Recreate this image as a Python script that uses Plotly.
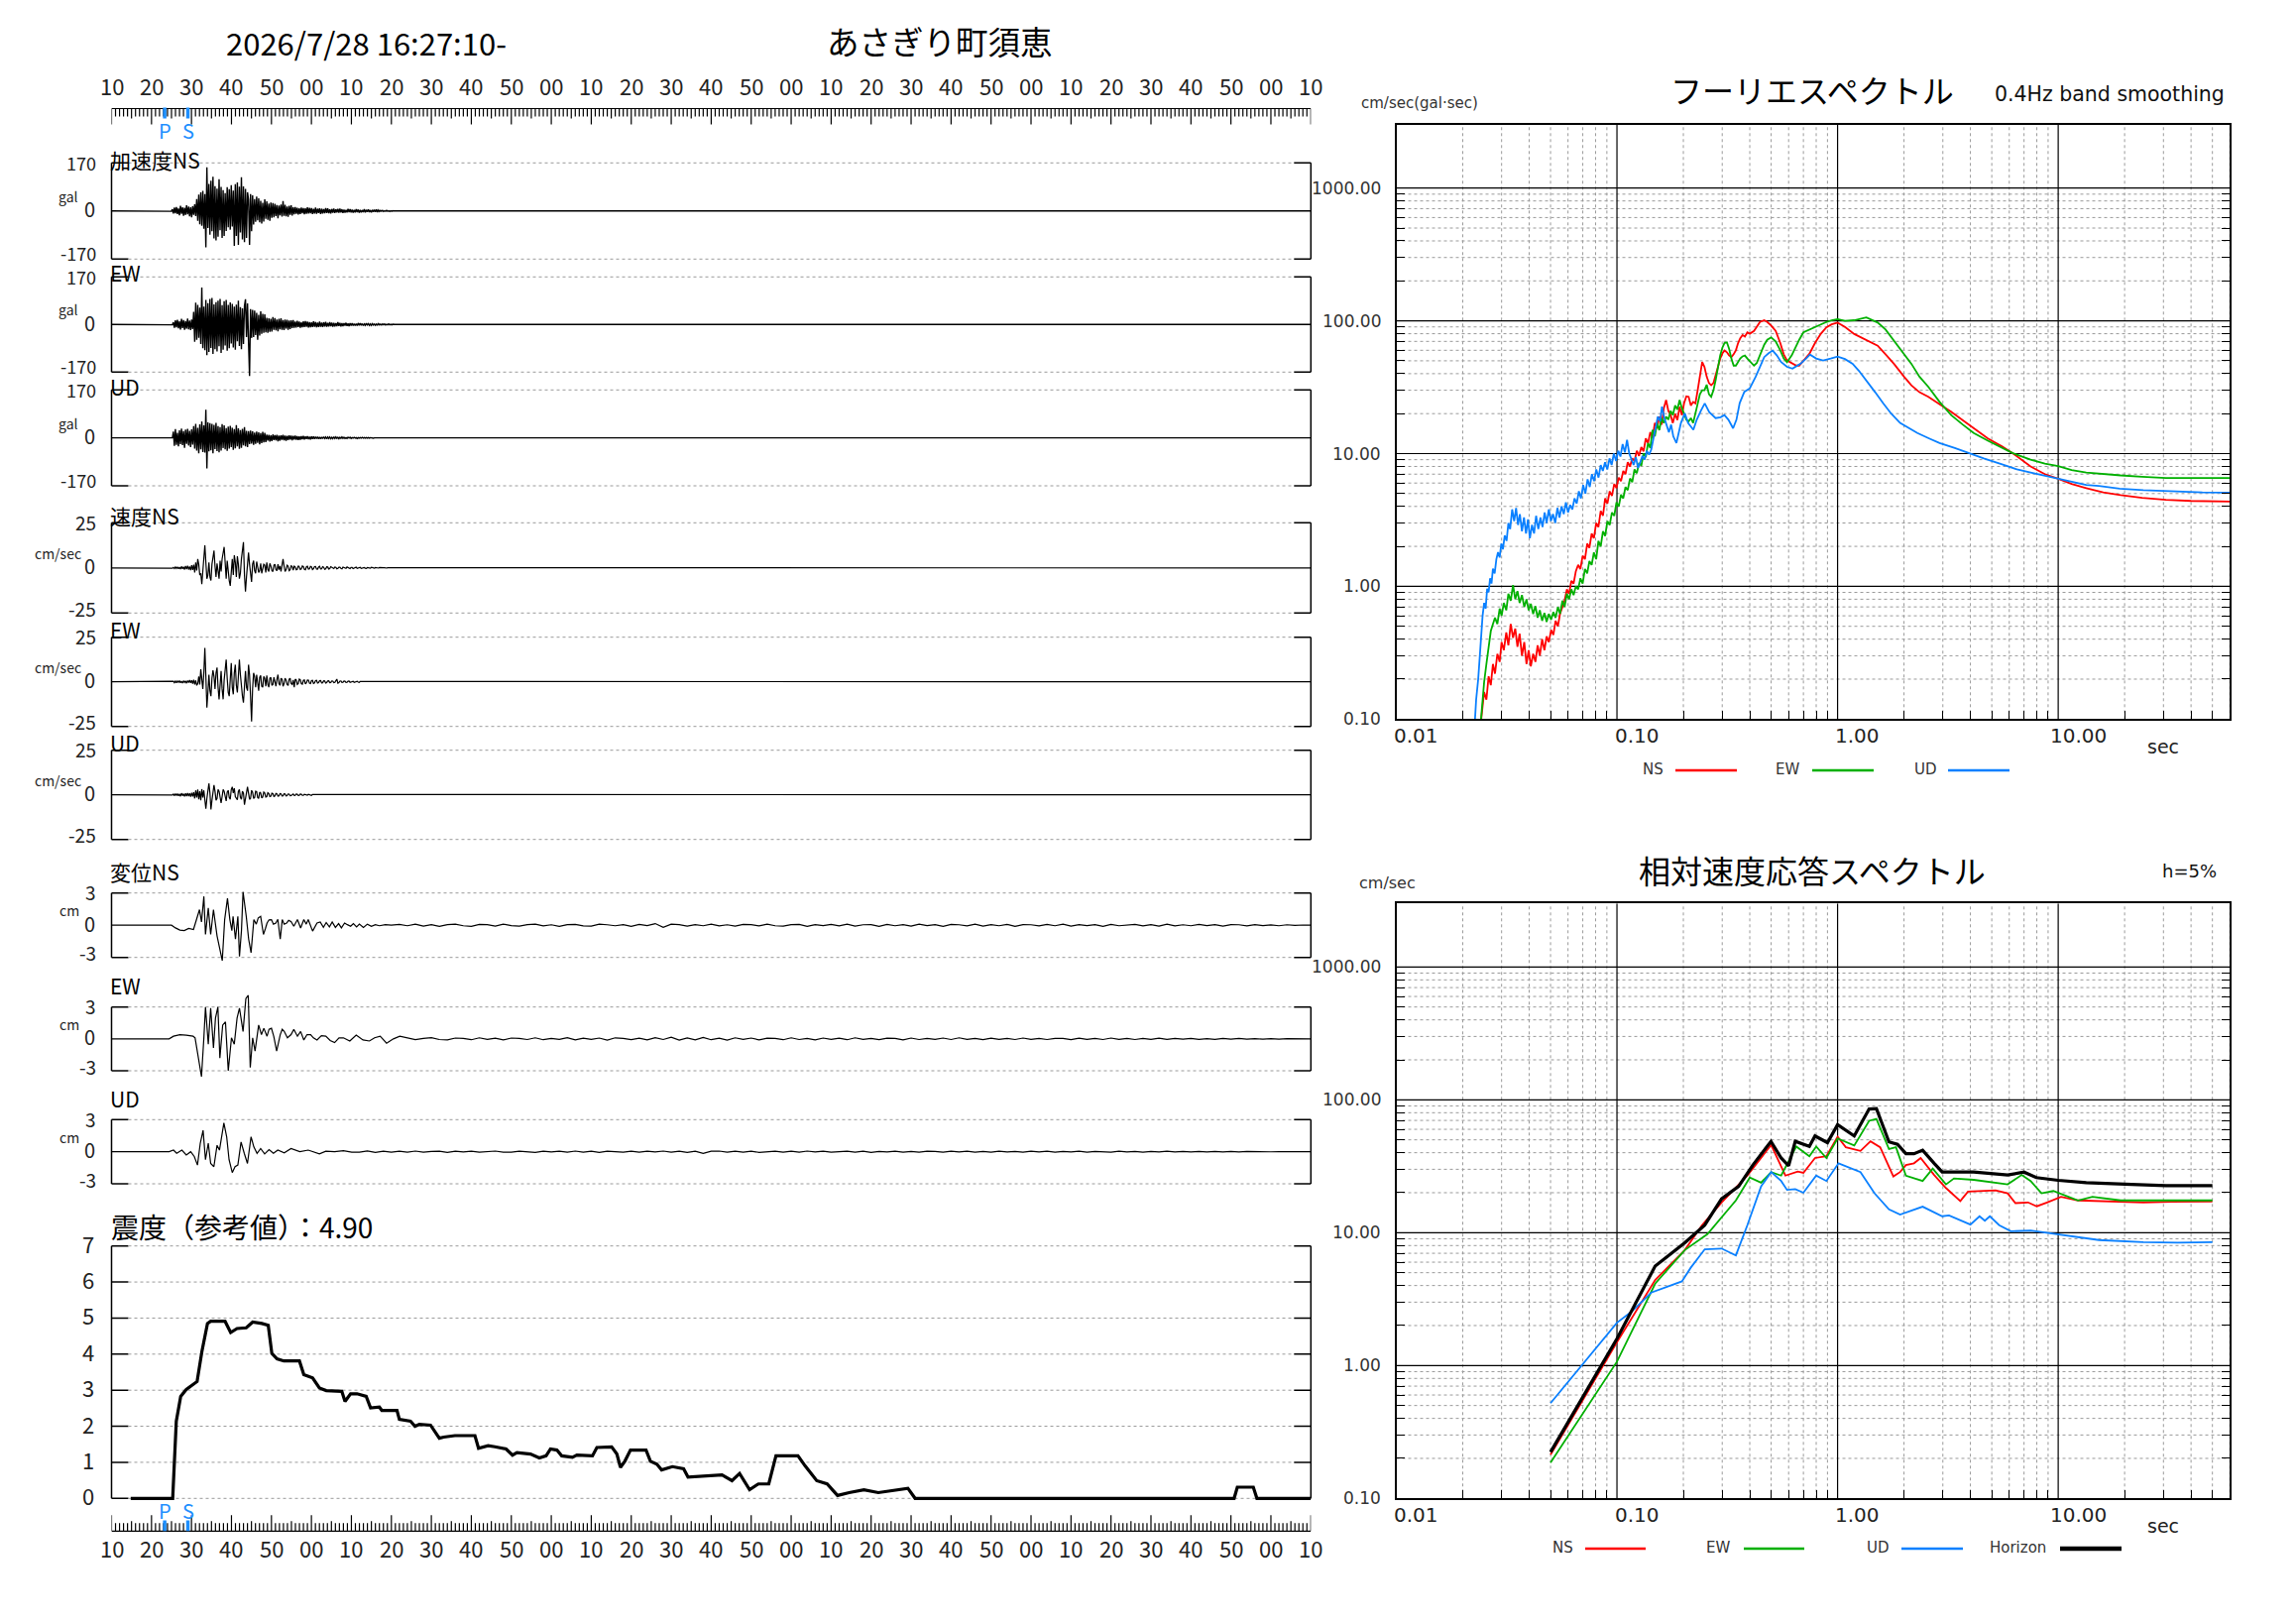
import numpy as np
import plotly.graph_objects as go

W, H = 2316, 1637
JP = "Noto Sans CJK JP"
LAT = "DejaVu Sans"
TXT = "#222222"
RED, GREEN, BLUE = "#ff0000", "#00b000", "#0a80ff"
PS_BLUE = "#1e8fff"


def PX(x):
    return x / W


def PY(y):
    return 1 - y / H


# ====================== DATA ======================
TITLE_DATE = "2026/7/28 16:27:10-"
STATION = "あさぎり町須恵"
START_SEC = 10          # record starts at 16:27:10
DURATION = 300          # seconds shown
P_TIME = 13.3           # seconds after start
S_TIME = 19.1
INTENSITY_TEXT = "4.90"

ACC_T0, ACC_DT = 14.2, 0.254
acc_ns = [0, 0, 1, -1,
          6, -9, 12, -8, 14, -11, 9, -15, 18, -10, 13, -17, 11, -14, 20, -12, 16, -19, 13, -22, 17, -14, 24, -18,
          42, -35, 58, -47, 66, -52, 71, -63,
          60, -129, 154, -60,
          96, -84, 107, -72, 121, -97, 88, -104, 79, -91, 112, -68, 85, -95, 74, -88,
          63, -71, 84, -58, 77, -66, 91, -55,
          72, -123, 95, -88, 101, -120, 86, -76, 119, -101, 87, -110,
          78, -95, 66, 40, -120, 60, -72, 55,
          -48, 42, -38, 51, -33, 45, -40, 36, -44, 29, -37, 41, -28, 34, -31, 26, -35, 30, -24, 28,
          -22, 25, -18, 21, -26, 19, -15, 23, -20, 35, -17, 22, -19, 16, -21, 18, -14, 20, -16, 13,
          -12, 14, -10, 11, -13, 9, -11, 12, -8, 10, -12, 9, -10, 13, -9, 11, -8, 10, -11, 8,
          -9, 12, -10, 8, -7, 9, -11, 8, -9, 7, -8, 10, -7, 9, -8, 6, -9, 7, -6, 8,
          -7, 6, -5, 7, -6, 8, -5, 6, -7, 5, -6, 4, -5, 7, -4, 6, -5, 5, -6, 4, -5, 6,
          -4, 5, -6, 4, -5, 3, -4, 6, -5, 4, -3, 5, -4, 3, -5, 4, -3, 4, -3, 5, -4, 3,
          -2, 2, -1, 2, -2, 1, -1, 2, -1, 1, -2, 1, -1, 1, 0, 0]
acc_ew = [0, 0, 0, 1, -1,
          8, -12, 15, -10, 17, -14, 11, -18, 20, -13, 16, -19, 12, -15, 21, -17, 14, -20, 18, -16,
          45, -62, 78, -55, 70,
          -48, 60, -70, 132, -85, 64,
          -92, 88, -110, 76, -98, 91, -84, 95, -105, 72, -88, 80, -96, 85, -78, 91, -102, 69, -90, 83,
          -75, 88, -94, 70, -85, 79, -68, 74,
          -82, 64, -90, 71, -60, 85, -77, 62, -88, 58, -70, 66,
          90, -45, 75, -60, -184, 55, -48, 52,
          -45, 50, -38, 42, -55, 35, -40, 47, -33, 38, -30, 36,
          -28, 24, -30, 22, -26, 20, -25, 27, -19, 23, -21, 18, -24, 20, -17, 22, -19, 16, -20, 18,
          -15, 17, -19, 14, -16, 15, -13, 16,
          -12, 10, -11, 13, -9, 10, -12, 8, -10, 11, -9, 12, -8, 10, -11, 9, -10, 8, -9, 11,
          -8, 9, -10, 7, -9, 10, -8, 7, -9, 8, -7, 9, -8, 6, -7, 8, -6, 7, -8, 6,
          -7, 5, -6, 8, -5, 6, -7, 5, -6, 5, -4, 6, -5, 4, -6, 5, -4, 5, -4, 3,
          -4, 3, -4, 5, -3, 4, -3, 3, -4, 2, -3, 4, -2, 3, -3, 2, -3, 3, -2, 2,
          -3, 2, -2, 3, -2, 1, -2, 2, -1, 2, -2, 1, -1, 2, -1, 1, -1, 1, 0, 0]
acc_ud = [0, 0, 0, 0, 0,
          22, -28, 31, -25, 18, -30, 27, -22, 33, -26, 24, -35, 29, -21, 32, -27, 25, -33, 30, -24,
          42, -38, 50, -45, 36, -55, 48, -41, 58, -50, 44, -52,
          100, -108,
          55, -48, 52, -44, 50, -55, 46, -40, 53, -47, 42, -51, 38, -45, 49, -36, 44, -41, 35, -46,
          40, -38, 43, -33, 36, -42, 31, -37, 45, -30, 34, -39, 28, -35, 32, -27, 38, -30, 25, -33,
          24, -22, 26, -20, 23, -25, 19, -21, 22, -18, 20, -23, 17, -19, 21, -16, 18, -15,
          12, -10, 11, -13, 9, -11, 12, -8, 10, -9, 11, -12, 8, -10, 9, -7, 11, -9, 8, -10,
          7, -8, 9, -6, 8, -9, 7, -6, 8, -7, 6, -8, 5, -7, 6, -5, 7, -6, 5, -4, 6, -5, 4, -6, 5, -4, 5, -4,
          4, -3, 4, -4, 3, -4, 3, -3, 4, -2, 3, -4, 3, -2, 3, -3, 2, -3, 4, -2,
          3, -2, 2, -3, 2, -2, 3, -2, 2, -2, 1, -2, 2, -1, 2, -2, 1, -1, 2, -1,
          1, -2, 1, -1, 1, -1, 2, -1, 1, -1, 1, -1, 1, -1, 1, 0, 1, -1, 0, 0]

VEL_T0, VEL_DT = 14.2, 0.254
vel_ns = [0, 0.1, -0.1, 0.2, -0.2,
          0.3, -0.4, 0.5, -0.3, 0.6, -0.5, 0.4, -0.7, 0.8, -0.5, 0.6, -0.9, 1.0, -0.7, 1.2, -0.9, 0.8, -1.3, 1.5, -1.1,
          1.8, -2.5, 3.0, -1.5, 4.9, 2.0, -4.0, -3.0, -9.0, -2.0, 6.0, 12.5, 3.0,
          -6.0, -4.0, 3.0, -5.0, -7.0, 2.0, 6.7, 9.6, 1.0, -5.0, 2.5, -3.0, -6.0,
          4.0, -2.0, 5.0, 8.0, 11.6, 3.0, -6.0, 4.0, -3.0, -7.0, -10.0,
          -2.0, 5.0, -4.0, 7.0, 3.0, -5.0, 6.5, 2.0, -6.0, -3.0,
          5.0, 9.0, 14.3, -4.0, -13.2, -5.0, 3.0, 8.5, 2.0, -4.0, -7.8,
          2.0, 4.0, -1.5, -3.0, 3.5, 1.0, -2.5, -1.5, 2.5,
          -3.0, -1.0, 2.0, 1.5, -2.5, 3.0, -1.0, -2.0, 2.5, 1.0, -1.5, -2.0,
          1.5, 2.0, -1.0, -1.5, 2.0, -1.0, 1.0, -2.0, 1.5, 4.9, 1.0, -2.0, -1.0, 1.5, 1.0, -1.5, -1.0, 1.2, 0.8, -1.2,
          1.0, 0.5, -1.0, -0.8, 1.2, 0.6, -0.9, -0.6, 1.0, 0.7, -0.8, -1.0, 0.6, 0.9, -0.7, -0.5, 0.8, 0.6, -0.9, -0.4,
          0.7, 0.8, -0.6, -0.7, 0.5, 0.9, -0.6, -0.5, 0.7, 0.4, -0.8, -0.5, 0.6, 0.5, -0.6, -0.4, 0.7, 0.3, -0.5, -0.4,
          0.5, 0.3, -0.5, -0.3, 0.4, 0.4, -0.3, -0.5, 0.4, 0.2, -0.4, -0.3, 0.5, 0.2, -0.3, -0.4, 0.3, 0.3, -0.4, -0.2,
          0.3, 0.4, -0.3, -0.2, 0.2, 0.3, -0.3, -0.2, 0.3, 0.2, -0.2, -0.3, 0.2, 0.2, -0.2, -0.2, 0.3, 0.1, -0.2, -0.2,
          0.2, 0.1, -0.2, -0.1, 0.2, 0.1, -0.1, -0.2, 0.1, 0.1, -0.1, -0.1, 0.1, 0.1, -0.1, 0, 0.1, 0, -0.1, 0]
vel_ew = [0, 0.1, -0.1, 0.1, -0.1,
          0.3, -0.5, 0.4, -0.6, 0.5, -0.3, 0.6, -0.5, 0.4, -0.7, 0.6, -0.4, 0.5, -0.8, 0.7, -0.5, 0.9, -0.6, 0.8, -1.0,
          1.2, -1.5, 0.8, -2.0, -1.0, 3.0, -1.5, 7.0, 2.0, -4.0, 5.0, 19.0, 3.0, -14.5, -6.0,
          4.0, -5.0, -8.0, 2.0, 6.5, 3.0, -4.0, 5.0, 8.0, -3.0, -9.8,
          -2.0, 6.0, -4.0, -9.8, 1.0, 7.0, 12.4, 2.0, -6.0, -8.0, 4.0, 10.5,
          -3.0, -7.0, 5.0, 9.6, -2.0, -6.0, 3.0, 12.4, 4.0,
          -5.0, -8.0, -11.7, 2.0, 6.0, -3.0, -5.0, 9.6, 4.0, -8.0, -22.2,
          -4.0, 5.0, 3.0, -3.0, 4.0, -2.0, -5.0, 2.5, 3.5,
          -2.5, -3.0, 3.0, 2.0, -2.5, 3.5, -1.5, -3.0, 2.0, 2.5, -2.0, -1.5,
          2.5, -1.0, -2.5, 1.5, 4.0, -1.0, -2.0, 2.0, 1.5, -2.5, -1.0, 2.0, 1.0, -1.5, -2.0, 1.5, 2.0, -1.0, -1.5, 1.0,
          -3.0, 1.5, 1.0, -1.5, -1.0, 1.5, 1.2, -1.0, -1.3, 0.8, 1.0, -1.2, -0.6, 1.0, 0.9, -0.8, -1.0, 0.7, 0.8, -0.9,
          -0.6, 0.7, 0.8, -0.7, -0.5, 0.6, 0.7, -0.6, -0.5, 0.6, 0.5, -0.7, -0.4, 0.5, 0.6, -0.5, -0.4, 0.5, 0.4, -0.5,
          -0.3, 0.6, 1.5, -0.8, -0.5, 0.4, 0.5, -0.4, -0.3, 0.4, 0.3, -0.4, -0.3, 0.3, 0.4, -0.3, -0.2, 0.3, 0.3, -0.3,
          -0.2, 0.2, 0.3, -0.2, -0.3, 0.2, 0.2, -0.2, -0.2, 0.2, 0.1, -0.2, -0.1, 0.2, 0.1, -0.1, -0.2, 0.1, 0.1, -0.1,
          -0.1, 0.1, 0.2, -0.1, -0.1, 0.1, 0.1, -0.1, -0.1, 0.1, 0.1, -0.1, 0, 0.1, 0, -0.1, 0, 0.1, 0, 0]
vel_ud = [0, 0.1, -0.2, 0.2, -0.1,
          0.4, -0.5, 0.6, -0.4, 0.7, -0.6, 0.5, -0.8, 0.9, -0.5, 0.6, -0.9, 0.8, -0.7, 1.0, -0.8, 0.9, -1.1, 1.2, -0.9,
          1.5, -2.0, 2.5, -1.5, 3.0, -2.5, 2.0, -3.0, 3.2, -1.5, 2.5, -3.5,
          -7.8, -2.0, 3.0, 6.5, 1.0, -8.2,
          -3.0, 2.5, 5.5, 2.0, -3.0, -2.0,
          3.0, 2.0, -2.5, -4.5, -1.0, 3.0, 2.0, -2.0, -3.5, 1.5,
          2.5, -1.5, -2.5, 3.0, 4.5, 1.0, 3.7, -1.0,
          -2.0, -2.7, 2.0, 3.0, -1.5, -2.5, 2.0, 1.0, -5.5,
          -2.0, 2.5, 4.5, 1.0, -2.5,
          -2.0, 2.5, 1.5, -2.0, -1.5, 2.0, 1.8, -1.5, -2.0, 1.5, 1.0, -1.8, -1.2, 1.5, 1.0, -1.2,
          -1.0, 1.2, 0.8, -1.0, -0.8, 0.9, 0.7, -0.9, -0.6, 0.8, 0.6, -0.7, -0.6, 0.7, 0.5, -0.6,
          -0.5, 0.6, 0.5, -0.6, -0.4, 0.5, 0.4, -0.5, -0.4, 0.4, 0.5, -0.4, -0.3, 0.4, 0.3, -0.4,
          -0.3, 0.4, 0.3, -0.3, -0.3, 0.3, 0.2, -0.3, -0.2, 0.3, 0.2, -0.2, -0.3, 0.2, 0.2, -0.2,
          0.2, -0.1, -0.2, 0.1, 0.2, -0.1, -0.1, 0.2, 0.1, -0.1, -0.2, 0.1, 0.1, -0.1, -0.1, 0.1, 0.1, -0.1, 0, 0.1,
          0, -0.1, 0, 0.1, 0, 0, -0.1, 0, 0.1, 0, 0, 0]

disp_ns_t = [15.0, 16.0, 17.1, 18.2, 19.3, 20.5, 21.5, 22.0, 22.5, 23.1, 23.5, 24.2, 24.8, 25.5, 26.4, 26.9, 27.7,
             28.3, 29.0, 29.6, 30.1, 30.4, 31.0, 31.6, 32.0, 32.5, 32.9, 33.7, 34.3, 34.9, 35.6, 36.2, 36.7, 37.3,
             37.6, 38.0, 38.5, 38.9, 39.4, 40.0, 40.5, 41.1, 41.6, 42.2, 42.7, 43.2, 43.8, 44.3, 44.9, 45.6, 46.5,
             47.3, 48.1, 48.7, 49.2, 50.3, 51.4, 52.2, 53.0, 53.7, 54.5, 55.2, 56.0, 56.8, 57.5, 58.3, 59.0, 59.8,
             60.5, 61.3, 62.0, 63.0, 64.0, 65.0, 66.0, 67.0, 68.5, 70.0]
disp_ns = [0, -0.25, -0.45, -0.5, -0.3, -0.4, 0.83, 1.45, 0.3, 2.68, -0.86, 1.6, -0.86, 1.45, -1.0, -1.94, -3.3,
           0.52, 2.5, 0.52, -0.5, 0.83, -1.3, 0.83, -2.9, -0.5, 3.1, 0.83, -1.3, -2.55, 0.52, 0.1, 0.68, 0.83,
           0.2, -0.86, -0.3, 0.2, 0.5, 0.52, 0.1, 0.2, 0.55, -1.3, 0.52, 0.1, 0.2, 0.45, 0.35, -0.1, 0.52,
           -0.25, 0.52, 0.1, 0.52, -0.55, 0.2, 0.3, -0.2, 0.25, -0.15, 0.3, -0.2, 0.15, -0.25, 0.2, 0.05, -0.1,
           0.15, -0.15, 0.1, -0.2, 0.1, -0.1, 0.05, -0.05, 0.05, 0]
disp_ns_tail = [0.08, -0.05, 0.1, -0.08, 0.05, -0.1, 0.06, 0.1, -0.05, -0.1, 0.08, 0.05, -0.08, 0.1, -0.04, -0.08,
                0.06, 0.1, -0.06, 0.04, -0.1, 0.05, 0.08, -0.06, -0.08, 0.1, 0.04, -0.05, 0.06, -0.1, 0.08, -0.04,
                0.15, -0.2, 0.1, 0.05, -0.08, 0.06, -0.05, 0.1, -0.06, 0.04, -0.08, 0.08, 0.05, -0.06, 0.1, -0.05,
                -0.08, 0.06, 0.08, -0.1, 0.05, -0.04, 0.08, -0.06, 0.1, -0.08, 0.04, 0.06, -0.1, 0.08, -0.05, 0.06,
                -0.08, 0.1, -0.04, 0.05, -0.1, 0.08, 0.04, -0.06, 0.1, -0.08, 0.05, -0.05, 0.08, -0.1, 0.06, 0.04,
                -0.06, 0.08, -0.05, 0.1, -0.08, 0.05, -0.04, 0.06, -0.1, 0.08, -0.05, 0.04, 0.08, -0.06, 0.05,
                -0.08, 0.1, -0.06, 0.04, -0.05, 0.08, -0.04, 0.06, -0.08, 0.05, 0.04, -0.06, 0.05, -0.04, 0.03,
                -0.05, 0.04, -0.02, 0.02, 0]
disp_ew_t = [14.4, 15.5, 17.1, 18.7, 20.4, 20.9, 21.5, 22.0, 22.5, 23.1, 23.5, 24.2, 24.8, 25.5, 26.0, 26.6, 27.1,
             27.8, 28.5, 29.2, 30.0, 30.7, 31.4, 32.0, 32.9, 33.6, 34.2, 34.7, 35.3, 35.9, 36.8, 37.5, 38.1, 38.9,
             39.4, 40.0, 40.6, 41.3, 42.2, 42.7, 43.2, 44.0, 44.9, 45.6, 46.5, 47.3, 48.1, 48.9, 49.8, 50.5, 51.4,
             52.5, 53.6, 54.7, 55.8, 56.9, 58.0, 59.6, 61.2, 62.9, 64.5, 65.8, 67.2, 68.8, 70.5, 72.1]
disp_ew = [0, 0.25, 0.4, 0.35, 0.25, 0.1, -1.3, -2.7, -3.55, 0.1, 3.0, -0.5, 2.9, -0.85, 1.95, 3.0, -1.8, 1.3,
           1.6, -3.0, 0.1, -0.5, 1.95, 2.9, 0.7, 3.8, 4.1, -2.7, 0.1, -1.15, 1.3, 0.4, 1.0, 0.25, 0.9, 1.0, 0.2,
           -1.15, 0.4, 0.9, 0.7, 0.1, 0.4, 0.9, 0.25, 0.7, -0.1, 0.4, 0.4, 0.1, -0.1, 0.3, 0.25, -0.15, -0.35,
           0.1, 0.1, -0.2, 0.35, -0.1, -0.2, 0.1, 0.25, -0.4, 0.0, 0.25]
disp_ew_tail = [0.1, -0.08, 0.05, 0.12, -0.06, -0.1, 0.08, 0.04, -0.08, 0.1, -0.05, 0.06, -0.1, 0.08, 0.05, -0.06,
                0.1, -0.08, 0.04, -0.05, 0.12, -0.1, 0.06, -0.04, 0.08, -0.12, 0.1, 0.05, -0.08, 0.06, -0.1, 0.12,
                -0.06, 0.15, -0.12, 0.08, -0.1, 0.14, -0.08, 0.06, -0.12, 0.1, -0.05, 0.08, -0.1, 0.06, 0.04, -0.08,
                0.1, -0.06, 0.05, -0.1, 0.08, -0.04, 0.06, -0.08, 0.1, -0.05, 0.04, -0.08, 0.06, 0.05, -0.1, 0.08,
                -0.06, 0.04, -0.05, 0.08, -0.06, 0.1, -0.04, 0.05, -0.08, 0.06, -0.05, 0.04, -0.06, 0.08, -0.04,
                0.05, -0.06, 0.04, 0.05, -0.08, 0.06, -0.04, 0.05, -0.06, 0.08, -0.05, 0.04, -0.06, 0.05, -0.04,
                0.06, -0.05, 0.04, -0.03, 0.05, -0.04, 0.03, -0.05, 0.04, -0.03, 0.04, -0.02, 0.03, -0.03, 0.02,
                -0.02, 0.02, -0.01, 0.01, 0]
disp_ud_t = [14.4, 15.5, 16.3, 17.6, 18.7, 19.8, 20.7, 21.5, 22.2, 22.9, 23.5, 24.2, 24.8, 25.6, 26.4, 27.0, 27.5,
             28.1, 28.8, 29.4, 30.2, 30.9, 31.6, 32.4, 33.2, 34.0, 34.9, 35.6, 36.4, 37.3, 38.3, 39.4, 40.5, 41.6,
             43.2, 44.9, 47.1, 49.2, 52.0, 53.6, 55.8, 58.0, 60.1, 62.0, 64.0, 66.0, 68.0, 70.0]
disp_ud = [0, 0.15, -0.15, 0.15, -0.3, 0.0, -0.45, -1.25, 0.8, 2.0, -0.75, 0.8, -1.1, -1.4, 0.6, 0.15, 1.4, 2.7,
           1.4, -0.75, -1.95, -1.4, -1.25, 0.9, -0.15, -1.1, 1.4, 0.45, -0.15, 0.3, -0.2, 0.2, -0.15, 0.15, -0.1,
           0.3, 0.0, 0.15, -0.2, 0.05, 0.0, 0.1, -0.05, -0.05, 0.08, -0.06, 0.05, -0.04]
disp_ud_tail = [0.05, -0.04, 0.06, -0.05, 0.03, 0.05, -0.06, 0.04, -0.03, 0.05, -0.05, 0.04, 0.06, -0.04, -0.05,
                0.05, 0.03, -0.06, 0.04, -0.03, 0.05, -0.04, 0.06, -0.05, 0.04, -0.06, 0.05, 0.03, -0.04, 0.05,
                -0.05, 0.04, -0.03, 0.06, -0.04, 0.05, -0.06, 0.04, -0.15, 0.05, 0.06, -0.05, 0.04, -0.04, 0.05,
                -0.06, 0.03, 0.05, -0.04, 0.04, -0.05, 0.06, -0.03, 0.04, -0.05, 0.03, 0.05, -0.04, 0.04, -0.06,
                0.03, -0.03, 0.05, -0.04, 0.03, -0.05, 0.04, 0.03, -0.04, 0.05, -0.03, 0.04, -0.05, 0.03, -0.04,
                0.05, -0.03, 0.03, -0.04, 0.04, -0.03, 0.05, -0.04, 0.03, -0.03, 0.04, -0.05, 0.03, 0.03, -0.04,
                0.04, -0.03, 0.03, -0.04, 0.03, -0.03, 0.04, -0.02, 0.03, -0.03, 0.02, -0.03, 0.03, -0.02, 0.02,
                -0.02, 0.02, -0.01, 0.01, -0.01, 0.01, 0, 0, 0, 0]
DISP_TAIL_START = {"ns": 72.0, "ew": 74.0, "ud": 72.0}

int_t = [4.8, 15.3, 16.2, 17.3, 18.7, 21.4, 22.6, 24.0, 24.8, 28.4, 29.8, 31.4, 33.7, 35.3, 37.6, 39.2, 40.1, 41.4,
         43.1, 47.0, 48.1, 50.3, 52.0, 53.7, 57.6, 58.4, 59.8, 61.4, 63.7, 64.8, 67.0, 67.6, 71.4, 72.0, 74.8, 75.9,
         77.0, 79.8, 82.0, 83.1, 85.9, 90.9, 91.8, 94.2, 95.9, 98.7, 100.3, 101.4, 104.8, 107.0, 108.7, 109.8,
         111.4, 112.6, 115.3, 116.4, 120.3, 121.4, 125.1, 126.4, 127.3, 128.4, 129.8, 133.7, 134.8, 136.4, 137.6,
         140.3, 143.1, 144.2, 152.7, 155.2, 157.1, 159.6, 161.8, 164.4, 166.2, 171.7, 173.5, 176.4, 179.0, 181.6,
         184.5, 188.2, 191.8, 196.3, 199.2, 201.0, 280.8, 281.6, 285.6, 286.5, 300.0]
int_v = [0, 0, 2.14, 2.83, 3.02, 3.24, 4.07, 4.85, 4.91, 4.91, 4.6, 4.71, 4.73, 4.89, 4.85, 4.8, 4.02, 3.87, 3.81,
         3.81, 3.43, 3.34, 3.06, 2.99, 2.97, 2.69, 2.9, 2.9, 2.83, 2.51, 2.53, 2.44, 2.44, 2.19, 2.14, 2.0, 2.05,
         2.03, 1.67, 1.7, 1.74, 1.74, 1.39, 1.46, 1.43, 1.37, 1.2, 1.27, 1.23, 1.12, 1.18, 1.37, 1.34, 1.18, 1.14,
         1.2, 1.18, 1.41, 1.43, 1.23, 0.86, 1.03, 1.34, 1.34, 1.03, 0.95, 0.79, 0.88, 0.82, 0.59, 0.65, 0.49, 0.69,
         0.24, 0.4, 0.4, 1.18, 1.18, 0.9, 0.49, 0.4, 0.08, 0.16, 0.24, 0.16, 0.24, 0.28, 0, 0, 0.31, 0.31, 0, 0]

# Fourier spectra (period [s] -> amplitude [cm/s])
fs_period = [0.0240, 0.0245, 0.0250, 0.0256, 0.0262, 0.0268, 0.0274, 0.0280, 0.0287, 0.0294,
             0.0300, 0.0307, 0.0315, 0.0322, 0.0330, 0.0338, 0.0346, 0.0354, 0.0362, 0.0371,
             0.0380, 0.0389, 0.0398, 0.0407, 0.0417, 0.0427, 0.0437, 0.0447, 0.0458, 0.0469,
             0.0480, 0.0491, 0.0503, 0.0515, 0.0527, 0.0540, 0.0552, 0.0566, 0.0579, 0.0593,
             0.0607, 0.0621, 0.0636, 0.0651, 0.0667, 0.0683, 0.0699, 0.0716, 0.0733, 0.0750,
             0.0768, 0.0786, 0.0805, 0.0824, 0.0844, 0.0864, 0.0884, 0.0905, 0.0927, 0.0949,
             0.0972, 0.0995, 0.1019, 0.1043, 0.1068, 0.1093, 0.1119, 0.1146, 0.1173, 0.1201,
             0.1230, 0.1259, 0.1289, 0.1320, 0.1351, 0.1383, 0.1416, 0.1450, 0.1485, 0.1520,
             0.1556, 0.1593, 0.1631, 0.1670, 0.1710, 0.1750, 0.1792, 0.1835, 0.1879, 0.1923,
             0.1969, 0.2016, 0.2064, 0.2113, 0.2163, 0.2215, 0.2268, 0.2322, 0.2377, 0.2434,
             0.2492, 0.2551, 0.2612, 0.2674, 0.2738, 0.2803, 0.2870, 0.2938, 0.3008, 0.3070,
             0.3150, 0.3220, 0.3300, 0.3380, 0.3460, 0.3540, 0.3620, 0.3710, 0.3800, 0.3900,
             0.4000, 0.4180, 0.4300, 0.4450, 0.4650, 0.4800, 0.5000, 0.5240, 0.5500, 0.5700,
             0.5900, 0.6200, 0.6500, 0.6700, 0.7000, 0.7450, 0.7900, 0.8400, 0.8900, 0.9400,
             1.000, 1.080, 1.190, 1.350, 1.520, 1.650, 1.800, 2.000, 2.160, 2.350,
             2.580, 2.900, 3.270, 3.700, 4.140, 4.800, 5.570, 6.200, 7.500, 8.700,
             10.00, 11.50, 13.40, 16.00, 19.20, 24.00, 30.80, 40.00, 60.00]
fs_ns = [0.085, 0.12, 0.16, 0.14, 0.21, 0.18, 0.26, 0.22, 0.31, 0.27,
         0.38, 0.33, 0.45, 0.36, 0.52, 0.41, 0.48, 0.35, 0.44, 0.30,
         0.38, 0.26, 0.33, 0.25, 0.31, 0.27, 0.36, 0.30, 0.40, 0.33,
         0.42, 0.38, 0.47, 0.43, 0.55, 0.50, 0.62, 0.70, 0.78, 0.95,
         0.88, 1.10, 1.05, 1.30, 1.45, 1.35, 1.70, 1.60, 2.10, 1.95,
         2.50, 2.30, 3.00, 2.80, 3.70, 3.40, 4.60, 4.20, 5.20, 4.80,
         5.90, 5.50, 6.60, 6.20, 7.40, 7.00, 8.60, 8.00, 9.20, 8.80,
         10.5, 9.6, 11.2, 10.4, 13.0, 12.0, 14.5, 13.2, 17.0, 15.5,
         19.0, 16.5, 22.0, 25.3, 21.0, 19.5, 17.0, 20.0, 17.9, 22.5,
         19.5, 24.0, 27.0, 26.8, 23.0, 24.5, 23.9, 30.0, 40.0, 48.9,
         45.0, 38.0, 34.0, 32.7, 34.0, 40.0, 45.0, 52.0, 57.0, 59.7,
         58.0, 55.0, 53.3, 56.0, 60.0, 68.0, 74.0, 78.0, 76.0, 81.8,
         80.0, 84.0, 90.0, 98.0, 101.0, 98.0, 92.0, 84.0, 68.0, 56.0,
         50.3, 48.0, 46.0, 46.0, 50.0, 56.4, 68.0, 80.0, 89.2, 94.0,
         97.0, 90.0, 79.6, 72.0, 65.0, 56.0, 47.5, 38.0, 32.7, 29.0,
         26.8, 23.5, 20.7, 17.8, 15.5, 13.0, 11.3, 10.1, 8.0, 7.0,
         6.46, 5.9, 5.5, 5.1, 4.86, 4.65, 4.49, 4.40, 4.35]
fs_ew = [0.085, 0.13, 0.19, 0.26, 0.36, 0.46, 0.52, 0.58, 0.52, 0.68,
         0.60, 0.75, 0.66, 0.88, 0.78, 1.02, 0.80, 0.92, 0.75, 0.86,
         0.70, 0.80, 0.66, 0.74, 0.62, 0.71, 0.58, 0.66, 0.55, 0.63,
         0.54, 0.62, 0.56, 0.64, 0.58, 0.70, 0.62, 0.78, 0.70, 0.88,
         0.80, 0.95, 0.86, 1.00, 0.95, 1.15, 1.05, 1.35, 1.25, 1.55,
         1.45, 1.80, 1.60, 2.20, 2.00, 2.60, 2.40, 3.10, 2.90, 3.60,
         3.40, 4.30, 4.00, 4.90, 4.60, 5.60, 5.30, 6.50, 6.10, 7.60,
         7.10, 8.50, 8.10, 10.0, 9.4, 12.0, 11.0, 15.1, 13.5, 17.0,
         15.0, 18.5, 17.0, 19.0, 18.0, 21.0, 19.5, 23.0, 21.5, 25.3,
         22.0, 20.0, 18.0, 17.5, 18.5, 17.0, 20.0, 24.0, 28.0, 30.0,
         30.0, 33.0, 28.0, 26.8, 30.0, 36.0, 45.0, 55.0, 63.0, 68.0,
         68.9, 62.0, 52.0, 46.0, 46.0, 49.0, 52.0, 54.0, 54.8, 52.0,
         50.0, 46.0, 48.0, 55.0, 66.0, 72.0, 75.1, 70.0, 60.0, 52.0,
         48.8, 55.0, 65.0, 72.0, 81.8, 86.0, 90.0, 94.4, 98.0, 101.0,
         103.0, 100.0, 101.0, 106.0, 97.0, 86.0, 71.0, 56.0, 47.5, 38.0,
         31.8, 24.5, 19.5, 16.5, 14.3, 12.5, 11.0, 10.1, 9.0, 8.4,
         8.04, 7.5, 7.2, 7.0, 6.85, 6.7, 6.55, 6.55, 6.55]
fs_ud_period = [0.0226, 0.0230, 0.0235, 0.0239, 0.0242, 0.0246, 0.0250, 0.0254, 0.0258, 0.0262,
                0.0266, 0.0270, 0.0274, 0.0279, 0.0284, 0.0289, 0.0294, 0.0299, 0.0304, 0.0310,
                0.0316, 0.0322, 0.0328, 0.0335, 0.0342, 0.0349, 0.0356, 0.0363, 0.0371, 0.0379,
                0.0387, 0.0395, 0.0403, 0.0412, 0.0421, 0.0430, 0.0440, 0.0450, 0.0460, 0.0470,
                0.0480, 0.0491, 0.0502, 0.0513, 0.0525, 0.0537, 0.0549, 0.0561, 0.0574, 0.0587,
                0.0600, 0.0614, 0.0628, 0.0642, 0.0657, 0.0672, 0.0687, 0.0703, 0.0719, 0.0736,
                0.0753, 0.0770, 0.0788, 0.0806, 0.0825, 0.0844, 0.0863, 0.0883, 0.0904, 0.0925,
                0.0946, 0.0968, 0.0991, 0.1014, 0.1037, 0.1061, 0.1086, 0.1111, 0.1137, 0.1163,
                0.1190, 0.1218, 0.1246, 0.1275, 0.1305, 0.1335, 0.1366, 0.1398, 0.1430, 0.1463,
                0.1497, 0.1532, 0.1568, 0.1600, 0.1640, 0.1680, 0.1720, 0.1760, 0.1800, 0.1860,
                0.1900, 0.1950, 0.2030, 0.2100, 0.2220, 0.2300, 0.2400, 0.2500, 0.2620, 0.2800,
                0.2950, 0.3070, 0.3200, 0.3360, 0.3480, 0.3600, 0.3780, 0.4000, 0.4250, 0.4450,
                0.4650, 0.4870, 0.5080, 0.5300, 0.5550, 0.5900, 0.6250, 0.6500, 0.6800, 0.7200,
                0.7500, 0.8000, 0.8600, 0.9300, 1.000, 1.080, 1.170, 1.250, 1.350, 1.480,
                1.610, 1.750, 1.920, 2.100, 2.300, 2.600, 2.900, 3.400, 3.900, 4.600,
                5.570, 6.500, 7.500, 8.700, 10.00, 11.50, 13.40, 15.30, 19.00, 24.30,
                32.00, 45.00, 60.00]
fs_ud = [0.085, 0.14, 0.20, 0.32, 0.43, 0.60, 0.75, 0.68, 0.96, 0.90,
         1.15, 1.05, 1.36, 1.25, 1.60, 1.81, 1.65, 2.10, 1.90, 2.42,
         2.20, 3.00, 2.70, 3.80, 3.10, 3.90, 2.90, 3.50, 2.60, 3.30,
         2.50, 3.20, 2.30, 2.90, 2.50, 3.40, 2.70, 3.30, 2.80, 3.60,
         3.00, 3.80, 3.10, 3.50, 3.00, 3.90, 3.30, 4.00, 3.50, 4.30,
         3.60, 4.10, 3.80, 4.60, 4.20, 5.20, 4.60, 5.80, 5.00, 6.40,
         5.60, 7.00, 6.20, 7.60, 6.60, 8.20, 7.40, 8.60, 7.60, 9.20,
         8.20, 10.0, 8.80, 10.5, 9.5, 11.8, 10.2, 12.7, 10.0, 9.0,
         8.2, 9.4, 7.8, 8.6, 9.6, 9.0, 10.5, 9.8, 10.7, 13.0,
         16.0, 19.0, 17.5, 22.6, 18.5, 16.0, 14.5, 16.5, 13.5, 12.0,
         14.0, 17.0, 20.1, 17.0, 15.1, 18.0, 21.0, 23.9, 20.5, 18.5,
         18.8, 19.5, 18.0, 15.5, 18.0, 24.0, 29.2, 31.0, 37.8, 45.0,
         53.3, 57.0, 59.7, 55.0, 48.9, 45.0, 43.6, 45.5, 47.5, 52.0,
         55.7, 52.0, 50.3, 52.0, 53.8, 51.5, 47.5, 42.0, 35.7, 29.0,
         23.9, 20.0, 17.0, 15.5, 14.3, 13.0, 12.0, 11.0, 10.1, 9.2,
         8.3, 7.6, 7.2, 6.8, 6.46, 6.1, 5.8, 5.7, 5.45, 5.3,
         5.2, 5.1, 5.08]

# Relative velocity response spectra, h=5%
rs_ns_t = [0.05, 0.1, 0.149, 0.203, 0.243, 0.298, 0.39, 0.5, 0.58, 0.66, 0.7, 0.79, 0.89, 1.0, 1.09, 1.27, 1.41,
           1.56, 1.79, 1.92, 2.04, 2.22, 2.38, 2.74, 3.1, 3.6, 3.9, 5.2, 5.9, 6.4, 7.3, 8.0, 8.9, 10.3, 12.3,
           17.1, 24.3, 32.7, 50]
rs_ns_v = [0.213, 1.5, 4.4, 7.4, 11.4, 16.9, 26.9, 45.8, 26.9, 28.9, 28.2, 36.5, 37.6, 52.8, 44, 41.3, 48.7,
           44, 26.5, 28.6, 32.3, 33.3, 36.5, 27.2, 21.7, 17.3, 20.4, 20.8, 19.8, 16.7, 16.9, 15.8, 16.9, 18.6, 17.5,
           17.3, 16.9, 17.1, 17.2]
rs_ew_t = [0.05, 0.1, 0.149, 0.203, 0.257, 0.346, 0.4, 0.45, 0.5, 0.555, 0.65, 0.745, 0.8, 0.89, 1.0, 1.19, 1.39,
           1.5, 1.71, 1.84, 2.04, 2.43, 2.7, 3.1, 3.37, 4.14, 5.9, 6.83, 7.5, 8.4, 9.5, 12.3, 14.3, 19.2, 32.7, 50]
rs_ew_v = [0.186, 1.07, 4.13, 7.4, 9.75, 17.5, 26, 23.8, 28.6, 26.9, 44.5, 37.6, 44.5, 36.5, 51.2, 45.3, 69.6,
           71.8, 42.6, 44, 26.9, 24.5, 30.4, 23.1, 25.6, 25.0, 23.1, 27.2, 24.5, 19.8, 20.6, 17.5, 18.6, 17.5,
           17.5, 17.5]
rs_ud_t = [0.05, 0.1, 0.116, 0.143, 0.197, 0.216, 0.25, 0.298, 0.346, 0.39, 0.45, 0.5, 0.555, 0.59, 0.643, 0.7,
           0.8, 0.89, 1.01, 1.27, 1.47, 1.71, 1.92, 2.43, 2.98, 3.2, 4.0, 4.4, 4.65, 4.9, 5.4, 6.1, 7.5, 10, 15.3,
           24.3, 34.8, 50]
rs_ud_v = [0.521, 2.1, 2.53, 3.54, 4.3, 5.45, 7.5, 7.6, 6.75, 11.4, 22.3, 28.6, 24.5, 21.0, 21.3, 20.0, 26.9,
           24.5, 33.3, 28.6, 19.8, 15.0, 13.7, 15.7, 13.3, 13.5, 11.5, 13.3, 12.3, 13.3, 11.4, 10.25, 10.4, 9.75,
           8.8, 8.5, 8.4, 8.5]
rs_h_t = [0.05, 0.1, 0.149, 0.203, 0.25, 0.298, 0.356, 0.413, 0.499, 0.555, 0.6, 0.643, 0.745, 0.79, 0.9, 1.0,
          1.19, 1.39, 1.5, 1.71, 1.87, 2.04, 2.22, 2.43, 2.74, 2.98, 4.14, 5.9, 7.0, 7.96, 10, 13.4, 21.5, 30.8, 50]
rs_h_v = [0.223, 1.59, 5.6, 8.4, 11.4, 18.0, 22.3, 32.3, 48.7, 36.5, 31.9, 48.7, 44.7, 53.5, 47.6, 65, 53.5,
          85.3, 86, 48.2, 46.2, 39.3, 39.3, 41.8, 33.3, 28.6, 28.6, 27.2, 28.6, 26, 24.8, 23.8, 23.1, 22.6, 22.6]

SPEC_X_RANGE = (0.01, 60.0)
SPEC_Y_RANGE = (0.1, 3006.0)
SPEC_YTICKS = [0.1, 1, 10, 100, 1000]
SPEC_XTICKS = [0.01, 0.1, 1, 10]

# ====================== FIGURE ======================
fig = go.Figure()
shapes, anns = [], []


def ann(text, x, y, size, family=JP, color=TXT, xanchor="center", yanchor="middle",
        xref="paper", yref="paper", **kw):
    d = dict(text=text, x=x, y=y, xref=xref, yref=yref, xanchor=xanchor, yanchor=yanchor,
             showarrow=False, font=dict(family=family, size=size, color=color))
    d.update(kw)
    return d


def hline(x0, x1, y, yref, color="black", width=1.5, dash=None):
    ln = dict(color=color, width=width)
    if dash:
        ln["dash"] = dash
    return dict(type="line", xref="paper", yref=yref, x0=PX(x0), x1=PX(x1), y0=y, y1=y, line=ln, layer="below")


LEFT, RIGHT = 112.5, 1322.3
TICK_IN = 17.0
DOT = "3px,3px"
layout_axes = {}
layout_axes["xaxis"] = dict(domain=[PX(LEFT), PX(RIGHT)], range=[0, DURATION], visible=False,
                            fixedrange=True, anchor="y10")

panels = [
    # title, t0/dt or t list, values, tail, scale, top px, bottom px, title y px
    ("加速度NS", ("dt", ACC_T0, ACC_DT), acc_ns, None, "acc", 164.3, 261.3, 161),
    ("EW", ("dt", ACC_T0, ACC_DT), acc_ew, None, "acc", 279.3, 375.3, 275),
    ("UD", ("dt", ACC_T0, ACC_DT), acc_ud, None, "acc", 393.3, 490.0, 390),
    ("速度NS", ("dt", VEL_T0, VEL_DT), vel_ns, None, "vel", 527.3, 618.3, 520),
    ("EW", ("dt", VEL_T0, VEL_DT), vel_ew, None, "vel", 642.7, 732.7, 635),
    ("UD", ("dt", VEL_T0, VEL_DT), vel_ud, None, "vel", 756.7, 846.7, 749),
    ("変位NS", ("t", disp_ns_t), disp_ns, ("ns", disp_ns_tail), "disp", 900.7, 965.7, 879),
    ("EW", ("t", disp_ew_t), disp_ew, ("ew", disp_ew_tail), "disp", 1015.7, 1080.0, 994),
    ("UD", ("t", disp_ud_t), disp_ud, ("ud", disp_ud_tail), "disp", 1129.3, 1194.0, 1108),
]
# ymax, max label, min label, unit, unit right edge px, unit font size, limit-label font, max shift, min shift
SCALES = {"acc": (170, "170", "-170", "gal", 81, 14, 18, 0, 6),
          "vel": (25, "25", "-25", "cm/sec", 84, 14, 19, 1, 5),
          "disp": (3, "3", "-3", "cm", 82, 14, 19, 1, 5)}

PAD = 14.0
for k, (title, tspec, vals, tail, sc, top, bot, ty) in enumerate(panels, start=1):
    ymax, lmax, lmin, unit, unit_r, unit_fs, lim_fs, sh_max, sh_min = SCALES[sc]
    half = (bot - top) / 2.0
    f = (half + PAD) / half
    key = "yaxis" if k == 1 else f"yaxis{k}"
    ref = "y" if k == 1 else f"y{k}"
    layout_axes[key] = dict(domain=[PY(bot + PAD), PY(top - PAD)], range=[-ymax * f, ymax * f],
                            visible=False, fixedrange=True, anchor="x")
    if tspec[0] == "dt":
        t = list(tspec[1] + tspec[2] * np.arange(len(vals)))
    else:
        t = list(tspec[1])
    xs = [0.0] + t
    ys = [0.0] + list(vals)
    if tail is not None:
        tt = np.linspace(DISP_TAIL_START[tail[0]], DURATION, len(tail[1]))
        xs += list(tt)
        ys += list(tail[1])
    else:
        xs += [DURATION]
        ys += [0.0]
    fig.add_trace(go.Scatter(x=xs, y=ys, mode="lines", xaxis="x", yaxis=ref,
                             line=dict(color="black", width=1.4 if sc == "acc" else 1.2), hoverinfo="skip"))
    # frame
    for yv in (ymax, -ymax):
        shapes.append(hline(LEFT, LEFT + TICK_IN, yv, ref))
        shapes.append(hline(RIGHT - TICK_IN, RIGHT, yv, ref))
        shapes.append(hline(LEFT + TICK_IN, RIGHT - TICK_IN, yv, ref, color="#9a9a9a", width=1, dash=DOT))
    for xv in (LEFT, RIGHT):
        shapes.append(dict(type="line", xref="paper", yref=ref, x0=PX(xv), x1=PX(xv), y0=-ymax, y1=ymax,
                           line=dict(color="black", width=1.5)))
    # labels
    anns.append(ann(lmax, PX(98), ymax, lim_fs, xanchor="right", yref=ref, yshift=sh_max, borderpad=0))
    anns.append(ann("0", PX(98), 0, 20, xanchor="right", yref=ref, yshift=2))
    anns.append(ann(lmin, PX(98), -ymax, lim_fs, xanchor="right", yref=ref, yshift=sh_min, borderpad=0))
    anns.append(ann(unit, PX(unit_r), 0, unit_fs, xanchor="right", yref=ref, yshift=15))
    anns.append(ann(title, PX(109), PY(ty), 21, color="black", xanchor="left"))

# ---- intensity panel ----
I_TOP, I_BOT = 1256.7, 1511.3
ppu = (I_BOT - I_TOP) / 7.0
ipad = 8.0
layout_axes["yaxis10"] = dict(domain=[PY(I_BOT + ipad), PY(I_TOP - ipad)],
                              range=[-ipad / ppu, 7 + ipad / ppu], visible=False, fixedrange=True, anchor="x")
for lv in range(8):
    shapes.append(hline(LEFT, LEFT + TICK_IN, lv, "y10"))
    shapes.append(hline(RIGHT - TICK_IN, RIGHT, lv, "y10"))
    shapes.append(hline(LEFT + TICK_IN, RIGHT - TICK_IN, lv, "y10", color="#9a9a9a", width=1, dash=DOT))
    anns.append(ann(str(lv), PX(97), lv, 22, xanchor="right", yref="y10", yshift=3))
for xv in (LEFT, RIGHT):
    shapes.append(dict(type="line", xref="paper", yref="y10", x0=PX(xv), x1=PX(xv), y0=0, y1=7,
                       line=dict(color="black", width=1.5)))
fig.add_trace(go.Scatter(x=int_t, y=int_v, mode="lines", xaxis="x", yaxis="y10",
                         line=dict(color="black", width=3.2), hoverinfo="skip"))
anns.append(ann("震度（参考値）：" + INTENSITY_TEXT, PX(110), PY(1237), 28, color="black", xanchor="left"))


# ---- time rulers ----
def ruler_path(base_px, direction):
    yb = PY(base_px)
    parts = [f"M0,{yb:.6f} L{DURATION},{yb:.6f}"]
    for s in range(0, DURATION + 1):
        L = 16 if s % 10 == 0 else (10 if s % 5 == 0 else 8)
        ye = PY(base_px + direction * L)
        parts.append(f"M{s},{yb:.6f} L{s},{ye:.6f}")
    return " ".join(parts)


shapes.append(dict(type="path", xref="x", yref="paper", path=ruler_path(109.5, 1),
                   line=dict(color="black", width=1.2)))
shapes.append(dict(type="path", xref="x", yref="paper", path=ruler_path(1544.3, -1),
                   line=dict(color="black", width=1.2)))
for s in range(0, DURATION + 1, 10):
    lbl = f"{(START_SEC + s) % 60:02d}"
    anns.append(ann(lbl, s, PY(86), 22, xref="x"))
    anns.append(ann(lbl, s, PY(1561), 22, xref="x"))
for name, tm in (("P", P_TIME), ("S", S_TIME)):
    shapes.append(dict(type="line", xref="x", yref="paper", x0=tm, x1=tm, y0=PY(108.5), y1=PY(119.5),
                       line=dict(color=PS_BLUE, width=3.5)))
    shapes.append(dict(type="line", xref="x", yref="paper", x0=tm, x1=tm, y0=PY(1533.5), y1=PY(1544.3),
                       line=dict(color=PS_BLUE, width=3.5)))
    anns.append(ann(name, tm, PY(132), 20, color=PS_BLUE, xref="x"))
    anns.append(ann(name, tm, PY(1523), 20, color=PS_BLUE, xref="x"))

anns.append(ann(TITLE_DATE, PX(369), PY(43), 31, color="black"))
anns.append(ann(STATION, PX(948), PY(41), 32.5, color="black"))

# ---- spectra panels ----
SX0, SX1 = 1408.5, 2249.3
minor_x = [k * 10.0 ** d for d in range(-2, 2) for k in range(2, 10) if k * 10.0 ** d <= SPEC_X_RANGE[1]]
minor_y = [k * 10.0 ** d for d in range(-1, 3) for k in range(2, 10)]
major_x = [0.1, 1.0, 10.0]
major_y = [1.0, 10.0, 100.0, 1000.0]


def spec_axes(xkey, ykey, xref_name, yref_name, top_px, bot_px):
    layout_axes[xkey] = dict(type="log", domain=[PX(SX0), PX(SX1)],
                             range=[np.log10(SPEC_X_RANGE[0]), np.log10(SPEC_X_RANGE[1])],
                             anchor=yref_name, showline=True, mirror=True, linecolor="black", linewidth=1.5,
                             ticks="inside", tickvals=minor_x, ticklen=9, tickcolor="black", tickwidth=1,
                             showticklabels=False, showgrid=False, zeroline=False, fixedrange=True)
    layout_axes[ykey] = dict(type="log", domain=[PY(bot_px), PY(top_px)],
                             range=[np.log10(SPEC_Y_RANGE[0]), np.log10(SPEC_Y_RANGE[1])],
                             anchor=xref_name, showline=True, mirror="ticks", linecolor="black", linewidth=1.5,
                             ticks="inside", tickvals=minor_y, ticklen=9, tickcolor="black", tickwidth=1,
                             showticklabels=False, showgrid=False, zeroline=False, fixedrange=True)

    def vlines(vals):
        xs, ys = [], []
        for v in vals:
            xs += [v, v, None]
            ys += [SPEC_Y_RANGE[0], SPEC_Y_RANGE[1], None]
        return xs, ys

    def hlines(vals):
        xs, ys = [], []
        for v in vals:
            xs += [SPEC_X_RANGE[0], SPEC_X_RANGE[1], None]
            ys += [v, v, None]
        return xs, ys

    for fn, vals, col, wd, dash in ((vlines, minor_x, "#9a9a9a", 1, DOT), (hlines, minor_y, "#9a9a9a", 1, DOT),
                                    (vlines, major_x, "black", 1.2, None), (hlines, major_y, "black", 1.2, None)):
        xs, ys = fn(vals)
        ln = dict(color=col, width=wd)
        if dash:
            ln["dash"] = dash
        fig.add_trace(go.Scatter(x=xs, y=ys, mode="lines", xaxis=xref_name, yaxis=yref_name, line=ln,
                                 hoverinfo="skip", connectgaps=False))
    for v in SPEC_YTICKS:
        anns.append(ann(f"{v:.2f}", PX(1395), np.log10(v), 17, family=LAT, color="#333333",
                        xanchor="right", yref=yref_name))
    lab_y = bot_px + 17
    for v in SPEC_XTICKS:
        anns.append(ann(f"{v:.2f}", np.log10(v), PY(lab_y), 20, family=LAT, color="#222222",
                        xref=xref_name, xshift=20))
    anns.append(ann("sec", PX(2182), PY(bot_px + 28), 19, family=LAT, color="#222222"))


F_TOP, F_BOT = 125.7, 725.3
R_TOP, R_BOT = 911.3, 1511.3
spec_axes("xaxis2", "yaxis11", "x2", "y11", F_TOP, F_BOT)
for xs, ys, col in ((fs_period, fs_ns, RED), (fs_period, fs_ew, GREEN), (fs_ud_period, fs_ud, BLUE)):
    fig.add_trace(go.Scatter(x=xs, y=ys, mode="lines", xaxis="x2", yaxis="y11",
                             line=dict(color=col, width=1.8), hoverinfo="skip"))
spec_axes("xaxis3", "yaxis12", "x3", "y12", R_TOP, R_BOT)
for xs, ys, col, wd in ((rs_ns_t, rs_ns_v, RED, 1.8), (rs_ew_t, rs_ew_v, GREEN, 1.8),
                        (rs_ud_t, rs_ud_v, BLUE, 1.8), (rs_h_t, rs_h_v, "black", 3.2)):
    fig.add_trace(go.Scatter(x=xs, y=ys, mode="lines", xaxis="x3", yaxis="y12",
                             line=dict(color=col, width=wd), hoverinfo="skip"))

# titles of spectra
anns.append(ann("フーリエスペクトル", PX(1828), PY(90), 32, color="black"))
anns.append(ann("0.4Hz band smoothing", PX(2128), PY(95), 20.5, family=LAT, color="#111111"))
anns.append(ann("cm/sec(gal·sec)", PX(1432), PY(104), 15, family=LAT, color="#333333"))
anns.append(ann("相対速度応答スペクトル", PX(1828), PY(877), 32, color="black"))
anns.append(ann("h=5%", PX(2208), PY(879), 18, family=LAT, color="#111111"))
anns.append(ann("cm/sec", PX(1399), PY(890), 16, family=LAT, color="#333333"))

# legends
for lbl, col, tx, l0, l1, wd, yy in (("NS", RED, 1667, 1690, 1752, 2.5, 776), ("EW", GREEN, 1803, 1828, 1890, 2.5, 776),
                                     ("UD", BLUE, 1942, 1965, 2027, 2.5, 776),
                                     ("NS", RED, 1576, 1599, 1660, 2.5, 1561), ("EW", GREEN, 1733, 1759, 1820, 2.5, 1561),
                                     ("UD", BLUE, 1895, 1918, 1980, 2.5, 1561),
                                     ("Horizon", "black", 2035, 2078, 2140, 4.5, 1561)):
    anns.append(ann(lbl, PX(tx), PY(yy), 15, family=LAT, color="#333333"))
    shapes.append(dict(type="line", xref="paper", yref="paper", x0=PX(l0), x1=PX(l1), y0=PY(yy + 1), y1=PY(yy + 1),
                       line=dict(color=col, width=wd)))

fig.update_layout(width=W, height=H, margin=dict(l=0, r=0, t=0, b=0), autosize=False,
                  paper_bgcolor="white", plot_bgcolor="rgba(0,0,0,0)", showlegend=False,
                  shapes=shapes, annotations=anns, **layout_axes)

fig.write_html("out.html", config={"displayModeBar": False},
               post_script="document.body.style.margin='0';document.body.style.overflow='hidden';")
